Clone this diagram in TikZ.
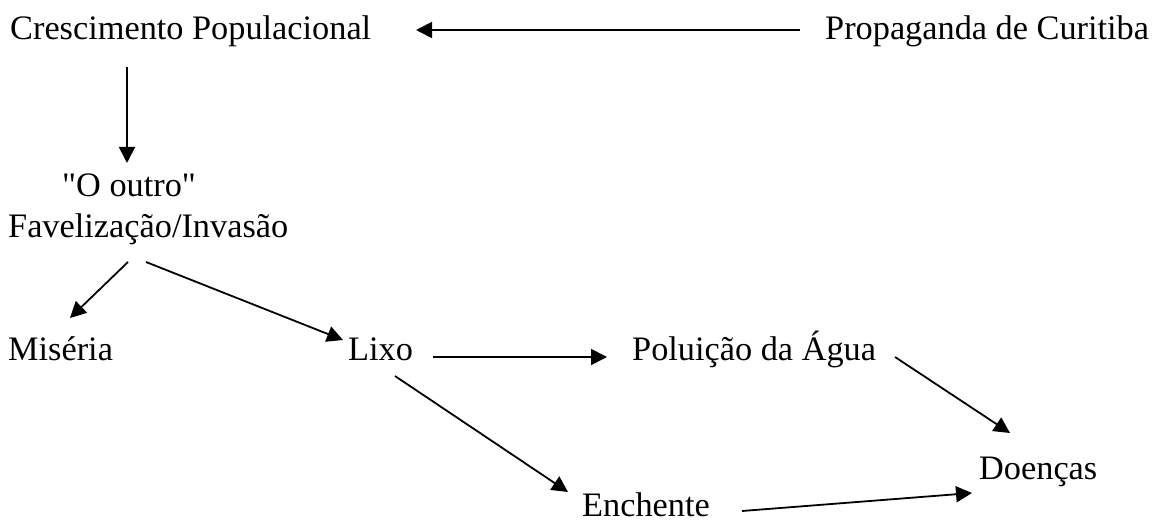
\documentclass[tikz,border=0pt]{standalone}
\usepackage{fontspec}
\setmainfont{Liberation Serif}
\usetikzlibrary{arrows.meta,calc}
\newcommand{\sq}{\XeTeXglyph\XeTeXcharglyph"22\relax}
\begin{document}
\begin{tikzpicture}[x=1pt,y=1pt,
  lbl/.style={anchor=base west,inner sep=0pt,font=\fontsize{34.3}{40}\selectfont},
  arr/.style={line width=1.8pt,-{Triangle[length=16pt,width=16pt]}}]
\useasboundingbox (0,0) rectangle (1153,-521);
\node[lbl] (cresc) at (10,-40) {Crescimento Populacional};
\node[lbl] (prop) at (825,-40) {Propaganda de Curitiba};
\node[lbl] (outro) at (62,-197) {\sq O outro\sq};
\node[lbl] (fav) at (8,-238) {Favelização/Invasão};
\node[lbl] (mis) at (8,-360) {Miséria};
\node[lbl] (lixo) at (348,-360) {Lixo};
\node[lbl] (pol) at (632,-360) {Poluição da Água};
\node[lbl] (doe) at (979,-479) {Doenças};
\node[lbl] (ench) at (582,-516) {Enchente};
\draw[arr] ($(prop.base west)+(-25,10)$) -- ($(cresc.base west)+(406,10)$);
\draw[arr] ($(cresc.base west)+(117,-27)$) -- ($(outro.base west)+(65,34)$);
\draw[arr] ($(fav.base west)+(120,-24)$) -- ($(mis.base west)+(62,42)$);
\draw[arr] ($(fav.base west)+(138,-24)$) -- ($(lixo.base west)+(-5,20)$);
\draw[arr] ($(lixo.base west)+(85,3)$) -- ($(pol.base west)+(-25,3)$);
\draw[arr] ($(lixo.base west)+(47,-16)$) -- ($(ench.base west)+(-14,24)$);
\draw[arr] ($(pol.base west)+(263,3)$) -- ($(doe.base west)+(31,46)$);
\draw[arr] ($(ench.base west)+(160,5)$) -- ($(doe.base west)+(-7,-14)$);
\end{tikzpicture}
\end{document}
